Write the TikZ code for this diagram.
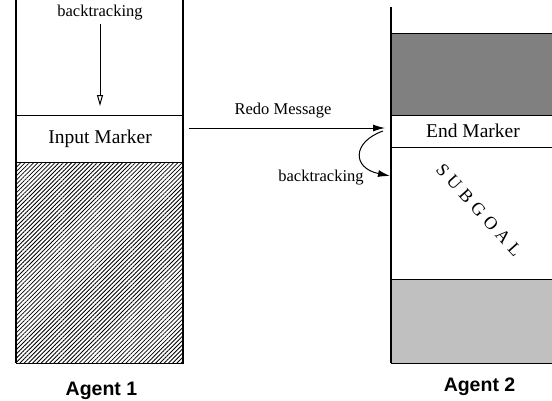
\documentclass[tikz,border=0pt]{standalone}
\usepackage{fontspec}
\setmainfont{Liberation Serif}
\newfontfamily\agentfont{Liberation Sans}
\usetikzlibrary{patterns.meta,arrows.meta}

\tikzset{
  frame/.style={line width=1.3pt},
  cell/.style={draw, line width=1.3pt, rectangle, inner sep=0pt, anchor=north west},
  marker/.style={font=\fontsize{19.5}{22}\selectfont},
  lbl/.style={font=\fontsize{16.5}{19}\selectfont, inner sep=0pt},
  agent/.style={font=\agentfont\bfseries\fontsize{19.5}{22}\selectfont},
  openhead/.style={-{Triangle[open, length=11pt, width=6pt, line width=1pt]}},
  solidhead/.style={-{Latex[length=12pt, width=7pt]}},
}

\begin{document}
\begin{tikzpicture}[x=1pt, y=-1pt, line join=miter]
\useasboundingbox (0,0) rectangle (552,400);
\clip (0,0) rectangle (552,400);

% ---- Agent 1 stack ----
\node[cell, minimum width=167pt, minimum height=201pt,
      pattern={Lines[angle=45, distance=3pt, line width=0.8pt]}] (hatch) at (16,162) {};
\node[cell, marker, minimum width=167pt, minimum height=47pt] (input) at (16,115) {Input Marker};
\draw[frame] (16,-2) -- (16,363) (183,-2) -- (183,363);

\node[lbl] (bt1) at (100,13) {backtracking};
\coordinate (bt1end) at (100,106);
\draw[line width=1pt, openhead] (bt1.south |- 0,24) -- (bt1end);

% ---- Agent 2 stack ----
\node[cell, fill={rgb,255:red,128;green,128;blue,128}, minimum width=175pt, minimum height=82pt] (dark) at (391,33) {};
\node[cell, marker, minimum width=175pt, minimum height=32pt] (endm) at (391,115) {};
\node[marker] (endtxt) at (473,131) {End Marker};
\node[cell, minimum width=175pt, minimum height=132pt] (subgoal) at (391,147) {};
\node[cell, fill={rgb,255:red,192;green,192;blue,192}, minimum width=175pt, minimum height=84pt] (light) at (391,279) {};
\draw[frame] (391,7) -- (391,363);

\node[rotate=-48, inner sep=0pt, font=\fontsize{18}{20}\selectfont] (sg) at (479,210)
  {S\kern5.5pt U\kern5.5pt B\kern5.5pt G\kern5.5pt O\kern5.5pt A\kern5.5pt L};

% ---- messages between agents ----
\coordinate (redoA) at (189,128);
\coordinate (redoB) at (385,128);
\draw[line width=1pt, solidhead] (redoA) -- (redoB);
\node[lbl] (redo) at (283,111) {Redo Message};

\coordinate (btA) at (383,131);
\coordinate (btB) at (390,176);
\draw[line width=1pt, solidhead] (btA) .. controls (352,142) and (352,168) .. (btB);
\node[lbl] (bt2) at (321,178) {backtracking};

% ---- captions ----
\node[agent] (ag1) at (101.5,390.5) {Agent 1};
\node[agent] (ag2) at (479.5,387) {Agent 2};
\end{tikzpicture}
\end{document}
